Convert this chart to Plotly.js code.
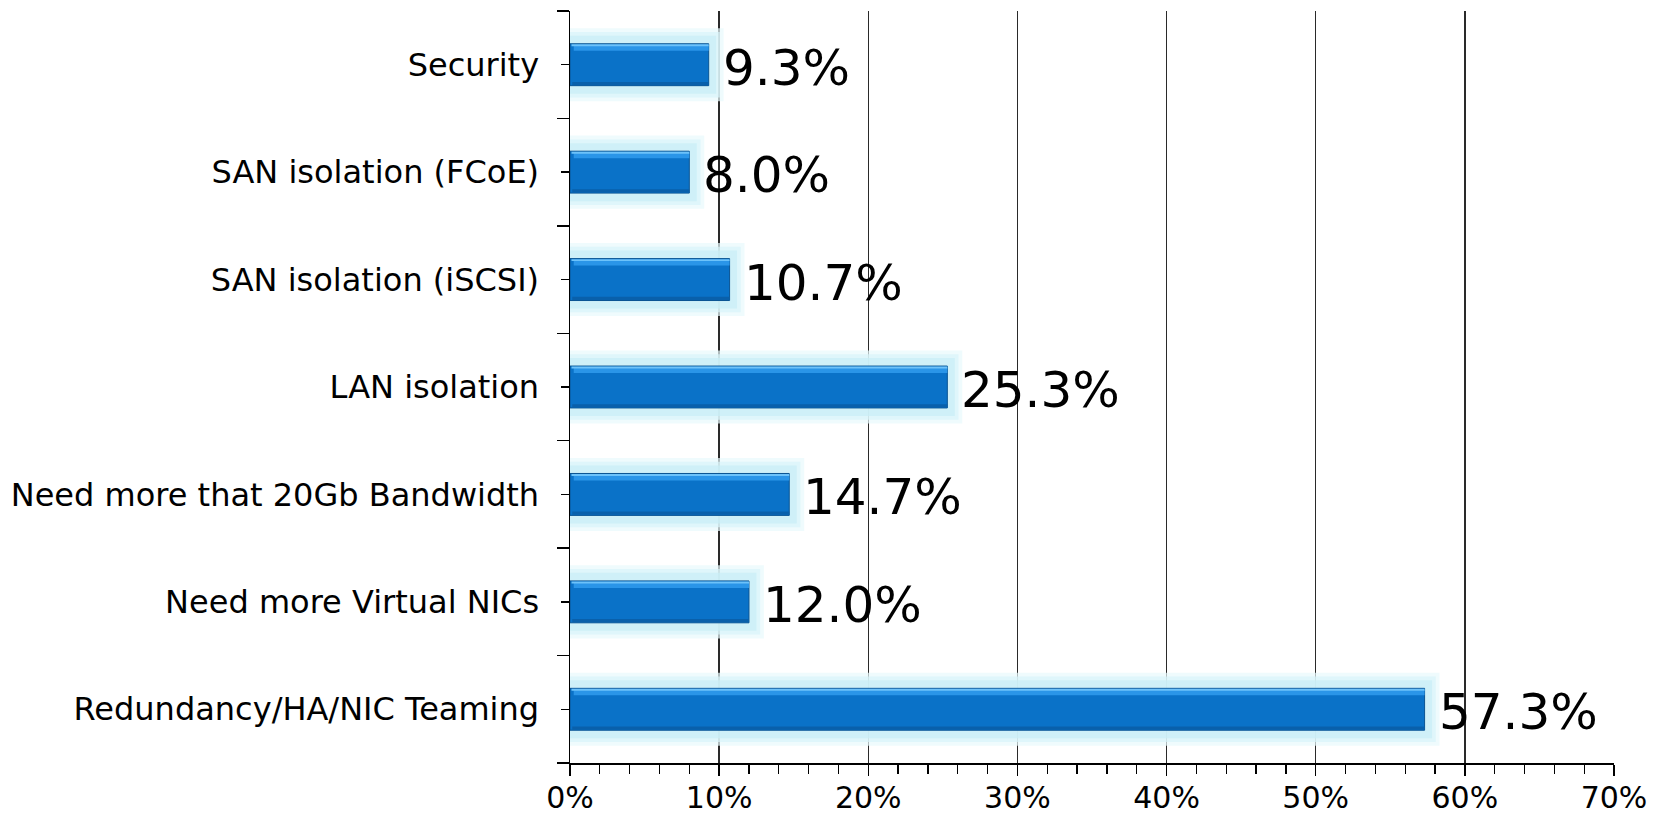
<!DOCTYPE html>
<html>
<head>
<meta charset="utf-8">
<script src="https://cdn.plot.ly/plotly-3.0.1.min.js"></script>
<style>
  html, body { margin: 0; padding: 0; background: #ffffff; }
  #chart { width: 1661px; height: 815px; }
</style>
</head>
<body>
<div id="chart"></div>
<script>
// Categories listed bottom to top
const categories = [
  "Redundancy/HA/NIC Teaming",
  "Need more Virtual NICs",
  "Need more that 20Gb Bandwidth",
  "LAN isolation",
  "SAN isolation (iSCSI)",
  "SAN isolation (FCoE)",
  "Security"
];
const values = [57.3, 12.0, 14.7, 25.3, 10.7, 8.0, 9.3];
const xTickValues = [0, 10, 20, 30, 40, 50, 60, 70];
const xTickLabels = ["0%", "10%", "20%", "30%", "40%", "50%", "60%", "70%"];

const pos = categories.map((c, i) => i);
const FONT = "DejaVu Sans, Verdana, sans-serif";

function layer(xs, opts) {
  return Object.assign({
    type: "bar",
    orientation: "h",
    y: pos,
    x: xs,
    hoverinfo: "skip",
    showlegend: false
  }, opts);
}

const traces = [
  // soft glow around the bars
  layer(values.map(v => v + 2.0), { base: -1.0, width: 0.68, marker: { color: "rgba(232,249,252,0.7)" } }),
  layer(values.map(v => v + 1.5), { base: -0.75, width: 0.61, marker: { color: "rgba(216,244,250,0.7)" } }),
  layer(values.map(v => v + 1.0), { base: -0.5, width: 0.54, marker: { color: "rgba(200,238,247,0.7)" } }),
  // main bar body
  layer(values, { base: 0, width: 0.39, marker: { color: "#0A72C8", line: { color: "#0A5493", width: 1 } } }),
  // upper lighter band
  layer(values.map(v => v - 0.25), { base: 0.25, width: 0.05, offset: 0.13, marker: { color: "#2A95E8" } }),
  // top bright edge
  layer(values.map(v => v - 0.1), { base: 0.1, width: 0.018, offset: 0.172, marker: { color: "#6CC2FA" } }),
  // bottom darker band
  layer(values.map(v => v - 0.15), { base: 0.15, width: 0.03, offset: -0.19, marker: { color: "#0960AB" } })
];

const annotations = values.map((v, i) => ({
  x: v,
  y: pos[i],
  xref: "x",
  yref: "y",
  text: v.toFixed(1) + "%",
  showarrow: false,
  xanchor: "left",
  yanchor: "middle",
  xshift: 12,
  yshift: -3,
  font: { family: FONT, size: 50, color: "#000000" }
}));

const layout = {
  width: 1661,
  height: 815,
  margin: { l: 570, r: 47, t: 11, b: 52 },
  paper_bgcolor: "#ffffff",
  plot_bgcolor: "#ffffff",
  barmode: "overlay",
  showlegend: false,
  font: { family: FONT, color: "#000000" },
  xaxis: {
    range: [0, 70],
    tickvals: xTickValues,
    ticktext: xTickLabels,
    showgrid: true,
    gridcolor: "#2a2a2a",
    gridwidth: 1.3,
    zeroline: false,
    showline: true,
    linecolor: "#000000",
    linewidth: 1.5,
    ticks: "outside",
    ticklen: 11,
    tickwidth: 1.5,
    tickcolor: "#000000",
    minor: { dtick: 2, tick0: 0, ticks: "outside", ticklen: 9, tickwidth: 1.3, tickcolor: "#000000", showgrid: false },
    ticklabelstandoff: -4,
    tickfont: { family: FONT, size: 30, color: "#000000" },
    fixedrange: true
  },
  yaxis: {
    range: [-0.5, 6.5],
    tickvals: pos,
    ticktext: categories,
    showgrid: false,
    zeroline: false,
    showline: true,
    linecolor: "#000000",
    linewidth: 1.5,
    ticks: "outside",
    ticklen: 8,
    tickwidth: 1.3,
    tickcolor: "#000000",
    minor: { dtick: 1, tick0: 0.5, ticks: "outside", ticklen: 12, tickwidth: 1.3, tickcolor: "#000000", showgrid: false },
    ticklabelstandoff: 15,
    tickfont: { family: FONT, size: 32, color: "#000000" },
    fixedrange: true
  },
  annotations: annotations
};

Plotly.newPlot("chart", traces, layout, { displayModeBar: false, staticPlot: true });
</script>
</body>
</html>
